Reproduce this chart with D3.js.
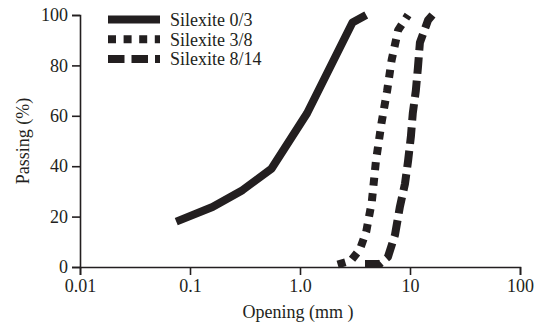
<!DOCTYPE html>
<html>
<head>
<meta charset="utf-8">
<script src="https://cdn.jsdelivr.net/npm/d3@7"></script>
<style>
  body { margin: 0; background: #fff; }
  text { font-family: "Liberation Serif", "Times New Roman", serif; fill: #231f20; }
</style>
</head>
<body>
<svg id="chart" width="539" height="322"></svg>
<script>
// values
const xTicks = [0.01, 0.1, 1, 10, 100]
const xTickLabels = ['0.01', '0.1', '1.0', '10', '100']
const yTicks = [0, 20, 40, 60, 80, 100]

const seriesNames = ['Silexite 0/3', 'Silexite 3/8', 'Silexite 8/14']

const silexite03 = [
    [0.075, 18], [0.16, 23.8], [0.3, 30.5], [0.55, 39], [1.16, 61], [3.0, 97], [4.0, 100]
]
const silexite38 = [
    [2.2, 1], [2.9, 2.5], [3.5, 7], [4.0, 14], [4.5, 26], [4.9, 42], [5.5, 57],
    [6.2, 70], [6.8, 82], [7.8, 94], [9.6, 100]
]
const silexite814 = [
    [3.9, 1.2], [5.3, 1.2], [6.3, 4], [7.3, 12.7], [8.1, 24], [9.0, 33], [9.6, 42],
    [10.2, 52], [10.6, 61], [11.3, 70], [11.8, 79], [12.3, 89], [14.6, 98], [16, 100]
]

const INK = '#231f20'
const LINE_W = 8
const FONT = '18px'
const dashes = [null, '8,7.6', '16.5,7']

let svg = d3.select('#chart')

let x = d3.scaleLog()
    .domain([0.01, 100])
    .range([80, 520])

let y = d3.scaleLinear()
    .domain([0, 100])
    .range([267, 15])

// axes
let xAxis = d3.axisBottom(x)
    .tickValues(xTicks)
    .tickFormat((d, i) => xTickLabels[i])
    .tickSize(8)
    .tickPadding(4)

let yAxis = d3.axisLeft(y)
    .tickValues(yTicks)
    .tickSize(8)
    .tickPadding(4)

let gx = svg.append('g')
    .attr('transform', 'translate(0,' + y(0) + ')')
    .call(xAxis)

let gy = svg.append('g')
    .attr('transform', 'translate(' + x(0.01) + ',0)')
    .call(yAxis)

for (let g of [gx, gy]) {
    g.select('.domain').attr('stroke', INK).attr('stroke-width', 1.6)
    g.selectAll('.tick line').attr('stroke', INK).attr('stroke-width', 1.6)
    g.selectAll('.tick text')
        .style('font-family', '"Liberation Serif", serif')
        .style('font-size', FONT)
        .attr('fill', INK)
}

// axis titles
svg.append('text')
    .attr('x', 298)
    .attr('y', 318)
    .attr('text-anchor', 'middle')
    .style('font-size', FONT)
    .text('Opening (mm )')

svg.append('text')
    .attr('transform', 'translate(29,141) rotate(-90)')
    .attr('text-anchor', 'middle')
    .style('font-size', FONT)
    .text('Passing (%)')

// curves
let line = d3.line()
    .x(d => x(d[0]))
    .y(d => y(d[1]))

let series = [silexite03, silexite38, silexite814]

series.forEach((s, i) => {
    svg.append('path')
        .datum(s)
        .attr('d', line)
        .attr('fill', 'none')
        .attr('stroke', INK)
        .attr('stroke-width', LINE_W)
        .attr('stroke-linejoin', 'round')
        .attr('stroke-dasharray', dashes[i])
})

// legend
let legendY = d3.scalePoint()
    .domain(seriesNames)
    .range([19.5, 59])

let legend = svg.append('g')

seriesNames.forEach((name, i) => {
    legend.append('line')
        .attr('x1', 108)
        .attr('x2', 160)
        .attr('y1', legendY(name))
        .attr('y2', legendY(name))
        .attr('stroke', INK)
        .attr('stroke-width', LINE_W)
        .attr('stroke-dasharray', dashes[i])

    legend.append('text')
        .attr('x', 170)
        .attr('y', legendY(name))
        .attr('dy', '0.35em')
        .style('font-size', FONT)
        .text(name)
})
</script>
</body>
</html>
